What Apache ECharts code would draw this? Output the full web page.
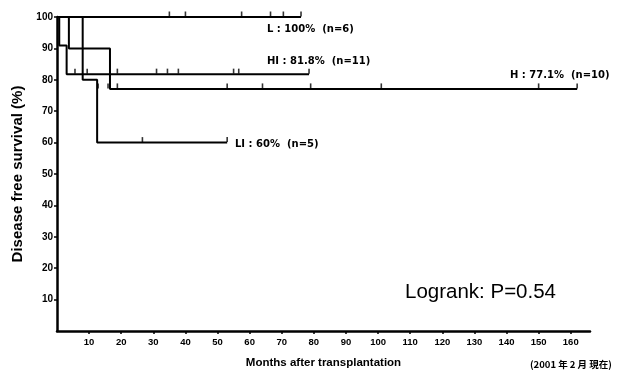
<!DOCTYPE html>
<html>
<head>
<meta charset="utf-8">
<script src="https://cdn.jsdelivr.net/npm/echarts@6/dist/echarts.min.js"></script>
<style>
  html, body { margin: 0; padding: 0; background: #fff; }
  #chart { width: 641px; height: 374px; }
</style>
</head>
<body>
<div id="chart"></div>
<script>
// Kaplan-Meier steps: times (months) and survival (%)
const lTimes = [0, 76];
const lSurv = [100, 100];
const hiTimes = [0, 0.7, 3, 78.5];
const hiSurv = [100, 90.9, 81.8, 81.8];
const hTimes = [0, 3.7, 16.5, 162];
const hSurv = [100, 90, 77.1, 77.1];
const liTimes = [0, 8, 12.5, 53];
const liSurv = [100, 80, 60, 60];

// censored observations (months)
const lCensor = [35, 40, 57.5, 66.5, 70.5, 76];
const hiCensor = [5.6, 9.4, 18.8, 31, 34.4, 37.8, 55, 56.6, 78.5];
const hCensor = [12.8, 15.9, 18.8, 53, 64, 79, 101, 150, 162];
const liCensor = [26.6, 53];

const groupLabels = ['L : 100%  (n=6)', 'HI : 81.8%  (n=11)', 'H : 77.1%  (n=10)', 'LI : 60%  (n=5)'];

const chart = echarts.init(document.getElementById('chart'), null, { renderer: 'canvas' });

const pairs = (xs, ys) => xs.map((x, i) => [x, ys[i]]);
const censorAt = (xs, level) => xs.map((x) => [x, level]);

const stepSeries = (name, xs, ys) => ({
  name,
  type: 'line',
  step: 'end',
  data: pairs(xs, ys),
  symbol: 'none',
  lineStyle: { color: '#000', width: 2 },
  z: 3,
});

const censorSeries = (name, xs, level) => ({
  name: name + ' censor',
  type: 'scatter',
  data: censorAt(xs, level),
  symbol: 'rect',
  symbolSize: [1.6, 5],
  symbolOffset: [0, -3],
  itemStyle: { color: '#000' },
  z: 4,
});

const boldFont = '"Liberation Sans", Arial, sans-serif';
const labelFont = 'bold 10px "DejaVu Sans", sans-serif';

chart.setOption({
  animation: false,
  grid: { left: 57, right: 51, top: 17, bottom: 38 },
  xAxis: {
    type: 'value',
    min: 0,
    max: 166,
    interval: 10,
    name: 'Months after transplantation',
    nameLocation: 'middle',
    nameGap: 26,
    nameTextStyle: { fontFamily: boldFont, fontWeight: 'bold', fontSize: 11.5, color: '#000' },
    axisLine: { lineStyle: { color: '#000', width: 2.5 } },
    axisTick: { show: true, length: 3, inside: false, lineStyle: { color: '#000', width: 1.5 } },
    axisLabel: {
      showMinLabel: false,
      showMaxLabel: false,
      margin: 6,
      fontFamily: boldFont,
      fontWeight: 'bold',
      fontSize: 9.5,
      color: '#000',
    },
    splitLine: { show: false },
  },
  yAxis: {
    type: 'value',
    min: 0,
    max: 100,
    interval: 10,
    name: 'Disease free survival (%)',
    nameLocation: 'middle',
    nameGap: 32,
    nameRotate: 90,
    nameTextStyle: { fontFamily: boldFont, fontWeight: 'bold', fontSize: 15, color: '#000' },
    axisLine: { show: true, lineStyle: { color: '#000', width: 2.5 } },
    axisTick: { show: true, length: 3, lineStyle: { color: '#000', width: 1.5 } },
    axisLabel: {
      showMinLabel: false,
      margin: 4,
      fontFamily: boldFont,
      fontWeight: 'bold',
      fontSize: 10,
      color: '#000',
    },
    splitLine: { show: false },
  },
  series: [
    stepSeries('L', lTimes, lSurv),
    stepSeries('HI', hiTimes, hiSurv),
    stepSeries('H', hTimes, hSurv),
    stepSeries('LI', liTimes, liSurv),
    censorSeries('L', lCensor, 100),
    censorSeries('HI', hiCensor, 81.8),
    censorSeries('H', hCensor, 77.1),
    censorSeries('LI', liCensor, 60),
  ],
  graphic: [
    { type: 'text', left: 267, top: 24, style: { text: groupLabels[0], font: labelFont, fill: '#000' } },
    { type: 'text', left: 267, top: 56, style: { text: groupLabels[1], font: labelFont, fill: '#000' } },
    { type: 'text', left: 510, top: 70, style: { text: groupLabels[2], font: labelFont, fill: '#000' } },
    { type: 'text', left: 235, top: 139, style: { text: groupLabels[3], font: labelFont, fill: '#000' } },
    { type: 'text', left: 405, top: 282, style: { text: 'Logrank: P=0.54', font: '20.5px ' + boldFont, fill: '#000' } },
    { type: 'text', left: 530, top: 360, style: { text: '(2001 年 2 月 現在)', font: 'bold 9.5px "Noto Sans CJK JP", sans-serif', fill: '#000' } },
  ],
});
</script>
</body>
</html>
